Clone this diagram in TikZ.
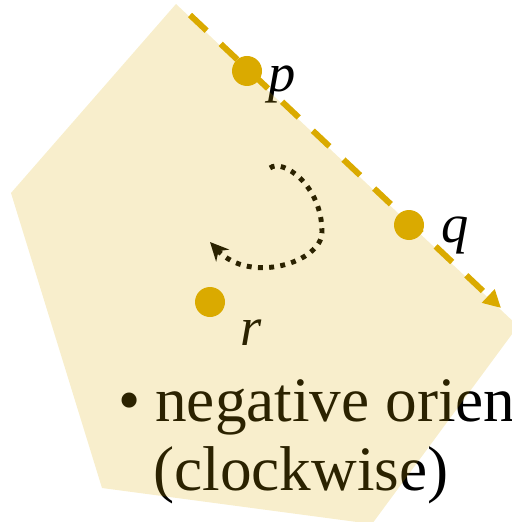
\documentclass[tikz,border=0pt]{standalone}
\usepackage{fontspec}
\setmainfont{Liberation Serif}
\usetikzlibrary{arrows.meta}
\definecolor{gold}{RGB}{218,170,0}

\begin{document}
\begin{tikzpicture}[
    x=0.2mm, y=-0.2mm,
    ptlabel/.style={font=\fontsize{31}{36}\selectfont\itshape,
                    inner sep=0pt, anchor=base west},
    bodytext/.style={font=\fontsize{36}{42}\selectfont,
                     inner sep=0pt, anchor=base west},
    golddot/.style={circle, fill=gold, inner sep=0pt, minimum size=6mm},
    >=Stealth
]
\useasboundingbox (0,0) rectangle (512,522);
\clip (0,0) rectangle (512,522);

% --- LABELS AND TEXT (under the region) ---
\node[ptlabel] (plabel) at (268,92) {p};
\node[ptlabel] (qlabel) at (441,242) {q};
\node[ptlabel] (rlabel) at (240,345) {r};

\node[bodytext] (bullet) at (118,421) {•};
\node[bodytext] (neg) at (155,421) {negative orientation};
\node[bodytext] (clk) at (153,490) {(clockwise)};

% --- CLOCKWISE TURN ---
\coordinate (turnA) at (270,168);
\coordinate (turnB) at (322,232);
\coordinate (turnC) at (210,242);
\draw[line width=2.8pt, dash pattern=on 2.8pt off 3.6pt,
      -{Stealth[length=10.5pt,width=10pt]}]
    (turnA) .. controls (282,158) and (322,185) .. (turnB)
            .. controls (322,262) and (250,285) .. (turnC);

% --- REGION ---
\fill[gold, fill opacity=0.2]
    (176,4) -- (518,326) -- (372,524) -- (102,488) -- (11,193) -- cycle;

% --- BOUNDARY EDGE AND POINTS ---
\coordinate (edgestart) at (190,15);
\coordinate (edgeend) at (501,308);
\draw[gold, line width=3.4pt, dash pattern=on 13pt off 11pt,
      -{Triangle[length=10pt,width=10pt]}] (edgestart) -- (edgeend);

\node[golddot] (p) at (247,71) {};
\node[golddot] (q) at (409,225) {};
\node[golddot] (r) at (210,302) {};

\end{tikzpicture}
\end{document}
